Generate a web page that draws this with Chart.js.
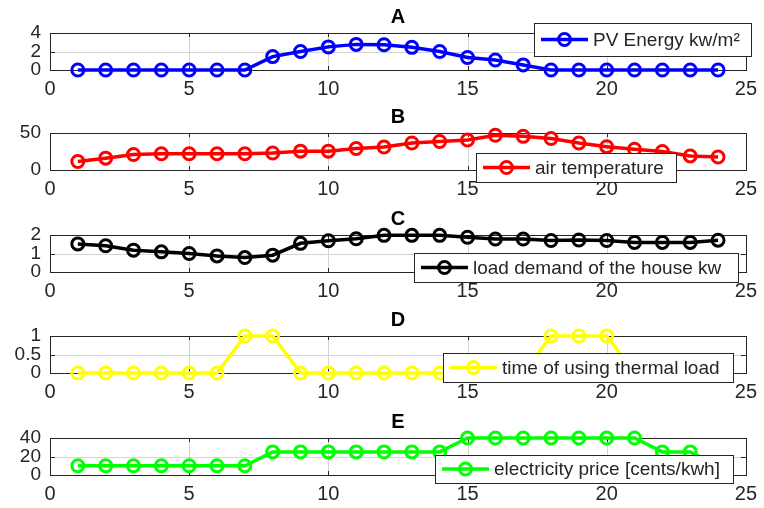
<!DOCTYPE html>
<html>
<head>
<meta charset="utf-8">
<script src="https://cdn.jsdelivr.net/npm/chart.js@4.4.1/dist/chart.umd.min.js"></script>
<style>
  body { margin: 0; background: #fff; width: 764px; height: 508px; position: relative; overflow: hidden; }
  .panel { position: absolute; left: 0; width: 764px; height: 102px; }
</style>
</head>
<body>
<div class="panel" style="top:0px"><canvas id="chartA"></canvas></div>
<div class="panel" style="top:100px"><canvas id="chartB"></canvas></div>
<div class="panel" style="top:202px"><canvas id="chartC"></canvas></div>
<div class="panel" style="top:303px"><canvas id="chartD"></canvas></div>
<div class="panel" style="top:405px"><canvas id="chartE"></canvas></div>
<script>
"use strict";

// hours of the day
let hours = [1, 2, 3, 4, 5, 6, 7, 8, 9, 10, 11, 12, 13, 14, 15, 16, 17, 18, 19, 20, 21, 22, 23, 24];

let pvEnergy = [0, 0, 0, 0, 0, 0, 0, 1.45, 2.0, 2.5, 2.77, 2.73, 2.45, 2.0, 1.35, 1.08, 0.55, 0, 0, 0, 0, 0, 0, 0];
let airTemperature = [11.5, 16, 21, 22, 22, 22, 22, 23, 25.5, 25.5, 29, 31, 36.5, 38.5, 40.5, 47, 45.5, 42.5, 36.5, 31.5, 28, 25, 19, 17.5];
let loadDemand = [1.52, 1.42, 1.18, 1.09, 1.0, 0.87, 0.78, 0.91, 1.55, 1.69, 1.8, 1.98, 1.98, 1.98, 1.88, 1.78, 1.78, 1.7, 1.73, 1.7, 1.6, 1.6, 1.6, 1.72];
let thermalLoad = [0, 0, 0, 0, 0, 0, 1, 1, 0, 0, 0, 0, 0, 0, 0, 0, 0, 1, 1, 1, 0, 0, 0, 0];
let electricityPrice = [10, 10, 10, 10, 10, 10, 10, 25, 25, 25, 25, 25, 25, 25, 40, 40, 40, 40, 40, 40, 40, 25, 25, 10];

let xTicks = [0, 5, 10, 15, 20, 25];
let pvTicks = [0, 2, 4];
let tempTicks = [0, 50];
let loadTicks = [0, 1, 2];
let thermalTicks = [0, 0.5, 1];
let priceTicks = [0, 20, 40];

let fontFamily = '"Liberation Sans", Arial, Helvetica, sans-serif';
let textColor = '#262626';
let gridColor = '#d4d4d4';

// grid, box round the axes and the short inner ticks (MATLAB look)
const framePlugin = {
    id: 'frame',
    beforeDatasetsDraw(chart) {
        const ctx = chart.ctx;
        const a = chart.chartArea;
        const xs = chart.scales.x;
        const ys = chart.scales.y;
        ctx.save();
        ctx.lineWidth = 1;
        ctx.strokeStyle = gridColor;
        ctx.beginPath();
        for (let t of xs.ticks) {
            let px = Math.round(xs.getPixelForValue(t.value)) + 0.5;
            ctx.moveTo(px, a.top);
            ctx.lineTo(px, a.bottom);
        }
        for (let t of ys.ticks) {
            let py = Math.round(ys.getPixelForValue(t.value)) + 0.5;
            ctx.moveTo(a.left, py);
            ctx.lineTo(a.right, py);
        }
        ctx.stroke();

        ctx.strokeStyle = textColor;
        ctx.strokeRect(Math.round(a.left) + 0.5, Math.round(a.top) + 0.5, Math.round(a.width), Math.round(a.height));
        ctx.beginPath();
        for (let t of xs.ticks) {
            let px = Math.round(xs.getPixelForValue(t.value)) + 0.5;
            ctx.moveTo(px, a.bottom);
            ctx.lineTo(px, a.bottom - 4);
            ctx.moveTo(px, a.top);
            ctx.lineTo(px, a.top + 4);
        }
        for (let t of ys.ticks) {
            let py = Math.round(ys.getPixelForValue(t.value)) + 0.5;
            ctx.moveTo(a.left, py);
            ctx.lineTo(a.left + 5, py);
            ctx.moveTo(a.right, py);
            ctx.lineTo(a.right - 5, py);
        }
        ctx.stroke();
        ctx.restore();
    }
};

// legend box placed where the figure had it
const boxLegendPlugin = {
    id: 'boxLegend',
    afterDraw(chart, args, opts) {
        const ctx = chart.ctx;
        const ds = chart.data.datasets[0];
        const b = opts.box;
        const midY = b.y + b.h / 2;
        ctx.save();
        ctx.fillStyle = '#ffffff';
        ctx.fillRect(b.x, b.y, b.w, b.h);
        ctx.strokeStyle = textColor;
        ctx.lineWidth = 1;
        ctx.strokeRect(b.x + 0.5, b.y + 0.5, b.w, b.h);
        ctx.strokeStyle = ds.borderColor;
        ctx.lineWidth = 3.5;
        ctx.beginPath();
        ctx.moveTo(b.x + 7, midY);
        ctx.lineTo(b.x + 54, midY);
        ctx.stroke();
        ctx.beginPath();
        ctx.lineWidth = 3;
        ctx.arc(b.x + 30.5, midY, 6, 0, Math.PI * 2);
        ctx.stroke();
        ctx.fillStyle = textColor;
        ctx.font = '19px ' + fontFamily;
        ctx.textBaseline = 'middle';
        ctx.fillText(ds.label, b.x + 59, midY + 1);
        ctx.restore();
    }
};

function makeChart(canvasId, title, label, values, color, yTicks, box) {
    let points = [];
    for (let i = 0; i < hours.length; i++) {
        points.push({ x: hours[i], y: values[i] });
    }
    const config = {
        type: 'line',
        data: {
            datasets: [{
                label: label,
                data: points,
                borderColor: color,
                borderWidth: 3.5,
                pointRadius: 6,
                pointBorderWidth: 3,
                pointBorderColor: color,
                pointBackgroundColor: 'rgba(0,0,0,0)',
                tension: 0,
                clip: false
            }]
        },
        options: {
            responsive: true,
            maintainAspectRatio: false,
            animation: false,
            events: [],
            layout: { padding: { left: 0, right: 12, top: 0, bottom: 0 } },
            plugins: {
                legend: { display: false },
                tooltip: { enabled: false },
                title: {
                    display: true,
                    text: title,
                    fullSize: false,
                    color: '#000000',
                    font: { family: fontFamily, size: 20, weight: 'bold' },
                    padding: { top: 5, bottom: 4 }
                },
                boxLegend: { box: box }
            },
            scales: {
                x: {
                    type: 'linear',
                    min: 0,
                    max: 25,
                    afterBuildTicks: function (scale) {
                        scale.ticks = xTicks.map(v => ({ value: v }));
                    },
                    afterFit: function (scale) {
                        scale.height = 32;
                    },
                    grid: { display: false, drawTicks: false },
                    border: { display: false },
                    ticks: {
                        color: textColor,
                        padding: 7,
                        maxRotation: 0,
                        autoSkip: false,
                        callback: v => String(v),
                        font: { family: fontFamily, size: 20 }
                    }
                },
                y: {
                    min: yTicks[0],
                    max: yTicks[yTicks.length - 1],
                    afterBuildTicks: function (scale) {
                        scale.ticks = yTicks.map(v => ({ value: v }));
                    },
                    afterFit: function (scale) {
                        scale.width = 50;
                    },
                    grid: { display: false, drawTicks: false },
                    border: { display: false },
                    ticks: {
                        color: textColor,
                        padding: 9,
                        autoSkip: false,
                        callback: v => String(v),
                        font: { family: fontFamily, size: 19 }
                    }
                }
            }
        },
        plugins: [framePlugin, boxLegendPlugin]
    };
    return new Chart(document.getElementById(canvasId), config);
}

makeChart('chartA', 'A', 'PV Energy kw/m\u00B2', pvEnergy, '#0000ff', pvTicks, { x: 534, y: 23, w: 217, h: 33 });
makeChart('chartB', 'B', 'air temperature', airTemperature, '#ff0000', tempTicks, { x: 476, y: 53, w: 200, h: 29 });
makeChart('chartC', 'C', 'load demand of the house kw', loadDemand, '#000000', loadTicks, { x: 414, y: 51, w: 324, h: 29 });
makeChart('chartD', 'D', 'time of using thermal load', thermalLoad, '#ffff00', thermalTicks, { x: 443, y: 50, w: 290, h: 29 });
makeChart('chartE', 'E', 'electricity price [cents/kwh]', electricityPrice, '#00ff00', priceTicks, { x: 435, y: 50, w: 298, h: 28 });
</script>
</body>
</html>
